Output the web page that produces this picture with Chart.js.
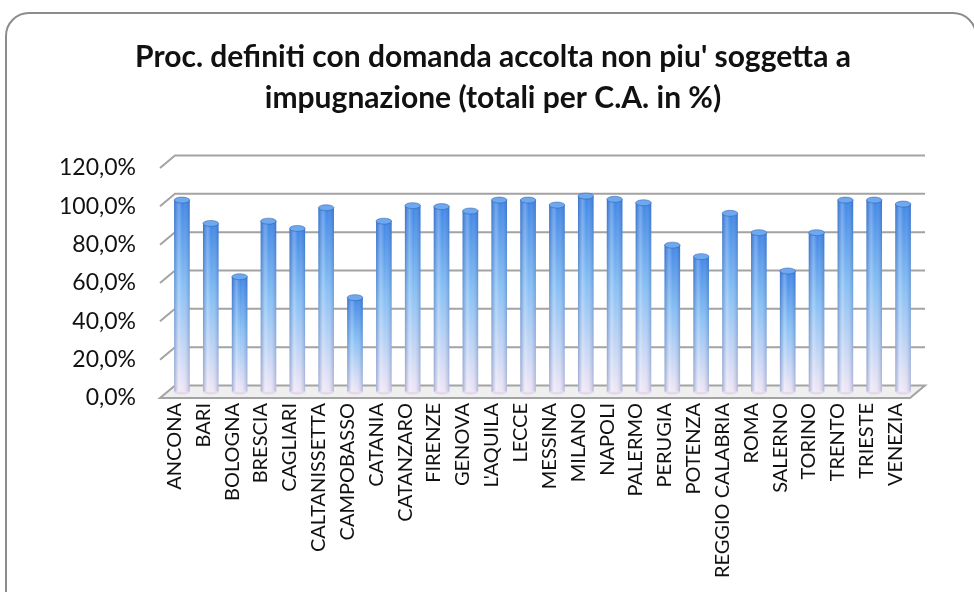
<!DOCTYPE html>
<html>
<head>
<meta charset="utf-8">
<script src="https://cdn.jsdelivr.net/npm/chart.js@4.4.1/dist/chart.umd.min.js"></script>
<style>
  html, body { margin: 0; padding: 0; background: #fff; overflow: hidden; }
  #frame { position: absolute; left: 5px; top: 12px; width: 972px; height: 620px; border: 2px solid #8c8c8c; border-radius: 24px; box-sizing: border-box; }
  #chart { position: absolute; left: 0; top: 0; }
</style>
</head>
<body>
<div id="frame"></div>
<canvas id="chart" width="974" height="592"></canvas>
<script>
var titleLines = ["Proc. definiti con domanda accolta non piu' soggetta a", "impugnazione (totali per C.A. in %)"];

var categories = ['ANCONA', 'BARI', 'BOLOGNA', 'BRESCIA', 'CAGLIARI', 'CALTANISSETTA', 'CAMPOBASSO',
    'CATANIA', 'CATANZARO', 'FIRENZE', 'GENOVA', "L'AQUILA", 'LECCE', 'MESSINA', 'MILANO', 'NAPOLI',
    'PALERMO', 'PERUGIA', 'POTENZA', 'REGGIO CALABRIA', 'ROMA', 'SALERNO', 'TORINO', 'TRENTO', 'TRIESTE', 'VENEZIA'];

// percentuali (0-100+)
var values = [100, 87.8, 60.0, 89.0, 85.2, 96.0, 49.1,
    89.0, 97.1, 96.6, 94.3, 100, 100, 97.4, 102.1, 100.4,
    98.6, 76.5, 70.5, 93.1, 83.0, 63.0, 83.0, 100, 100, 97.9];

var yMin = 0, yMax = 120, yStep = 20;

// offset of the back wall (fake 3D depth)
var depth = { x: 15, y: -12.5 };

// fit the title font to the width of the original
var meas = document.createElement('canvas').getContext('2d');
meas.font = 'bold 25px Lato';
var titleSize = Math.min(30, 25 * 720 / meas.measureText(titleLines[0]).width);

var walls = {
    id: 'walls',
    beforeDatasetsDraw: function(chart) {
        var c = chart.ctx, a = chart.chartArea, ys = chart.scales.y;
        var y0 = ys.getPixelForValue(0);
        c.save();
        c.lineWidth = 2;
        c.strokeStyle = '#a3a3a3';
        // floor
        c.beginPath();
        c.moveTo(a.left, y0);
        c.lineTo(a.right, y0);
        c.lineTo(a.right + depth.x, y0 + depth.y);
        c.lineTo(a.left + depth.x, y0 + depth.y);
        c.closePath();
        c.fillStyle = '#efefef';
        c.fill();
        c.stroke();
        // back wall grid + side ticks
        ys.ticks.forEach(function(t) {
            if (t.value === 0) return;
            var y = ys.getPixelForValue(t.value);
            c.beginPath();
            c.moveTo(a.left, y);
            c.lineTo(a.left + depth.x, y + depth.y);
            c.lineTo(a.right + depth.x, y + depth.y);
            c.stroke();
        });
        c.restore();
        // bars stand in the middle of the depth
        c.save();
        c.translate(depth.x / 2, depth.y / 2);
    },
    afterDatasetsDraw: function(chart) {
        var c = chart.ctx;
        chart.getDatasetMeta(0).data.forEach(function(bar) {
            var w = bar.width, x0 = bar.x - w / 2;
            var g = c.createLinearGradient(x0, 0, x0 + w, 0);
            g.addColorStop(0, 'rgba(30,70,150,0.35)');
            g.addColorStop(0.3, 'rgba(255,255,255,0.25)');
            g.addColorStop(0.55, 'rgba(255,255,255,0)');
            g.addColorStop(1, 'rgba(30,70,150,0.3)');
            c.fillStyle = g;
            c.fillRect(x0, bar.y, w, bar.base - bar.y);
            // rounded bottom
            c.beginPath();
            c.ellipse(bar.x, bar.base, w / 2, 3, 0, 0, Math.PI);
            c.fillStyle = '#e4dbea';
            c.fill();
            // top cap
            c.beginPath();
            c.ellipse(bar.x, bar.y, w / 2, 3, 0, 0, 2 * Math.PI);
            c.fillStyle = '#6ea9ef';
            c.fill();
            c.lineWidth = 1;
            c.strokeStyle = 'rgba(40,90,170,0.5)';
            c.stroke();
        });
        c.restore();
    }
};

var ctx = document.getElementById('chart').getContext('2d');
new Chart(ctx, {
    type: 'bar',
    plugins: [walls],
    data: {
        labels: categories,
        datasets: [{
            data: values,
            barPercentage: 0.54,
            categoryPercentage: 1,
            borderWidth: 0,
            backgroundColor: function(context) {
                var ys = context.chart.scales.y;
                if (!ys || context.raw == null) return '#6ea9ef';
                var top = ys.getPixelForValue(context.raw), base = ys.getPixelForValue(0);
                if (!isFinite(top) || !isFinite(base) || top === base) return '#6ea9ef';
                var g = context.chart.ctx.createLinearGradient(0, top, 0, base);
                g.addColorStop(0, '#3f86e6');
                g.addColorStop(0.45, '#88c0f5');
                g.addColorStop(1, '#f1e7f5');
                return g;
            }
        }]
    },
    options: {
        responsive: false,
        animation: false,
        layout: { padding: { left: 12, right: 0, top: 0, bottom: 0 } },
        plugins: {
            legend: { display: false },
            tooltip: { enabled: false },
            title: {
                display: true,
                text: titleLines,
                color: '#111',
                font: { family: 'Lato', weight: 'bold', size: titleSize, lineHeight: '41px' },
                padding: { top: 36.5, bottom: 49.5 }
            }
        },
        scales: {
            x: {
                grid: { display: false, drawTicks: false },
                border: { display: false },
                ticks: { autoSkip: false, minRotation: 90, maxRotation: 90, padding: 5, color: '#111', font: { family: 'Lato', size: 20 } },
                afterFit: function(s) { s.height = 194; }
            },
            y: {
                min: yMin,
                max: yMax,
                grid: { display: false, drawTicks: false },
                border: { display: false },
                ticks: {
                    stepSize: yStep,
                    padding: 24,
                    color: '#111',
                    font: { family: 'Lato', size: 23 },
                    callback: function(v) { return v.toFixed(1).replace('.', ',') + '%'; }
                },
                afterFit: function(s) { s.width = 148; }
            },
            // empty right axis, only keeps room for the depth of the walls
            yRight: {
                position: 'right',
                grid: { display: false, drawTicks: false },
                border: { display: false },
                ticks: { display: false },
                afterFit: function(s) { s.width = 64; }
            }
        }
    }
});
</script>
</body>
</html>
